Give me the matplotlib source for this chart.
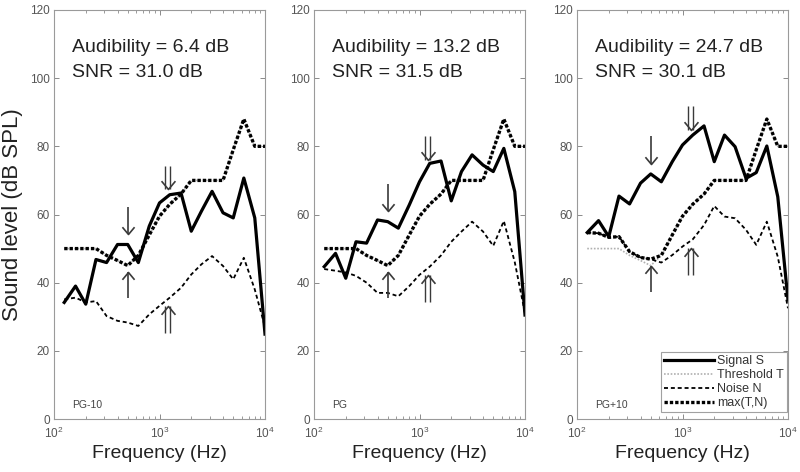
import numpy as np
import matplotlib
matplotlib.use("Agg")
import matplotlib.pyplot as plt
from matplotlib.path import Path
from matplotlib.transforms import ScaledTranslation

plt.rcParams['font.family'] = ['Liberation Sans', 'DejaVu Sans']
plt.rcParams['mathtext.default'] = 'regular'

# 1/3-octave band centres (Hz)
freqs = [125, 160, 200, 250, 315, 400, 500, 630, 800, 1000,
         1250, 1600, 2000, 2500, 3150, 4000, 5000, 6300, 8000, 10000]

threshold = [50, 50, 50, 50, 48, 46.5, 45, 48, 54, 59.5,
             63, 66, 70, 70, 70, 70, 79, 88, 80, 80]

signal_pg_m10 = [34.2, 39, 33.7, 46.8, 45.9, 51.2, 51.2, 45.9, 56.6, 63.4,
                 65.8, 66.3, 55.1, 61, 66.8, 60.5, 59, 70.7, 59, 24.9]
noise_pg_m10 = [35.1, 35.6, 34.2, 34.6, 30.2, 28.8, 28.3, 27.3, 30.7, 33.2,
                35.6, 38.5, 42.4, 45.4, 47.8, 44.9, 41, 47.3, 38, 27]

signal_pg = [44.7, 48.6, 41.3, 52, 51.6, 58.4, 57.9, 56, 62.8, 69.6,
             75, 75.7, 64, 72.6, 77.5, 74.5, 72.6, 79.4, 66.7, 30.5]
noise_pg = [44, 43.5, 43, 42, 40, 37, 37, 36, 39, 42.3,
            44.7, 48, 52, 55, 57.9, 55, 50.8, 58.1, 46, 31]

signal_pg_p10 = [54.7, 58.2, 53.5, 65.4, 63.1, 69.2, 71.9, 69.6, 75.5, 80.4,
                 83.3, 86, 75.5, 83.3, 79.9, 70.6, 72.3, 80.1, 65.2, 34.9]
noise_pg_p10 = [54.7, 54.5, 53.3, 53.5, 49.1, 47.4, 46.9, 45.9, 48.1, 50.6,
                52.7, 56.9, 62.5, 59.4, 58.9, 55.5, 51.1, 57.9, 47.6, 32.5]

conditions = ["PG-10", "PG", "PG+10"]
audibility = [6.4, 13.2, 24.7]
snr = [31.0, 31.5, 30.1]
signals = [signal_pg_m10, signal_pg, signal_pg_p10]
noises = [noise_pg_m10, noise_pg, noise_pg_p10]

# arrows mark the 500 Hz band and ~1.2 kHz
F_SINGLE = 500
F_DOUBLE = 1200

CHEV_DOWN = Path([(-1, 1.2), (0, 0), (1, 1.2)], [Path.MOVETO, Path.LINETO, Path.LINETO])
CHEV_UP = Path([(-1, -1.2), (0, 0), (1, -1.2)], [Path.MOVETO, Path.LINETO, Path.LINETO])
ARROW_COL = "#3a3a3a"


def at(f, vals):
    return float(np.interp(np.log10(f), np.log10(freqs), vals))


def arrow(ax, f, tail, tip, double=False):
    fig = ax.figure
    chev = CHEV_DOWN if tip < tail else CHEV_UP
    offs = (-1.7, 1.7) if double else (0,)
    for dx in offs:
        tr = ax.transData + ScaledTranslation(dx / 72, 0, fig.dpi_scale_trans)
        ax.plot([f, f], [tail, tip], color=ARROW_COL, lw=1.0 if double else 1.2,
                transform=tr, solid_capstyle='butt')
    ax.plot([f], [tip], marker=chev, ms=12 if double else 10.5, mfc='none',
            mec=ARROW_COL, mew=1.2, ls='none')


fig = plt.figure(figsize=(8, 4.72), dpi=100)
lefts = [54, 314, 577]
axes = []
for i in range(3):
    ax = fig.add_axes([lefts[i] / 800, 53 / 472, 211 / 800, 409 / 472])
    axes.append(ax)
    maxtn = np.maximum(threshold, noises[i])

    h_t, = ax.plot(freqs, threshold, color='#b0b0b0', lw=1.2, ls=(0, (1, 1)))
    h_n, = ax.plot(freqs, noises[i], color='black', lw=1.3, ls=(0, (2.2, 1.6)))
    h_m, = ax.plot(freqs, maxtn, color='black', lw=2.4, ls=(0, (1, 0.6)))
    h_s, = ax.plot(freqs, signals[i], color='black', lw=2.3)

    # arrows
    s5 = at(F_SINGLE, signals[i]) + 3
    arrow(ax, F_SINGLE, s5 + 8, s5)
    m5 = at(F_SINGLE, maxtn) - 2
    arrow(ax, F_SINGLE, m5 - 7.5, m5)
    s12 = at(F_DOUBLE, signals[i]) + 2
    arrow(ax, F_DOUBLE, s12 + 7, s12, double=True)
    n12 = at(F_DOUBLE, noises[i]) - 2
    arrow(ax, F_DOUBLE, n12 - 8, n12, double=True)

    ax.set_xscale('log')
    ax.set_xlim(100, 10000)
    ax.set_ylim(0, 120)
    ax.set_yticks(range(0, 121, 20))
    ax.tick_params(which='both', direction='in', top=True, right=True,
                   color='#8a8a8a', labelcolor='#555555', labelsize=8.5)
    ax.tick_params(axis='y', pad=3)
    ax.tick_params(axis='x', pad=5)
    ax.tick_params(which='major', length=3.5, width=0.7)
    ax.tick_params(which='minor', length=2, width=0.6)
    for sp in ax.spines.values():
        sp.set_color('#9a9a9a')
        sp.set_linewidth(0.8)

    ax.set_xlabel("Frequency (Hz)", fontsize=14, color='#222222')
    ax.xaxis.set_label_coords(0.5, -0.064)

    ax.text(0.085, 0.909, f"Audibility = {audibility[i]:.1f} dB", transform=ax.transAxes,
            fontsize=14, color='#222222', va='center', ha='left')
    ax.text(0.085, 0.846, f"SNR = {snr[i]:.1f} dB", transform=ax.transAxes,
            fontsize=14, color='#222222', va='center', ha='left')
    ax.text(0.085, 0.034, conditions[i], transform=ax.transAxes,
            fontsize=7.5, color='#444444', va='center', ha='left')

axes[0].set_ylabel("Sound level (dB SPL)", fontsize=16, color='#222222')
axes[0].yaxis.set_label_coords(-0.145, 0.5)

leg = axes[2].legend([h_s, h_t, h_n, h_m],
                     ["Signal S", "Threshold T", "Noise N", "max(T,N)"],
                     loc='lower right', bbox_to_anchor=(0.997, 0.017), fontsize=9,
                     frameon=True, fancybox=False, edgecolor='#8a8a8a',
                     handlelength=4.0, handletextpad=0.3, borderpad=0.25,
                     labelspacing=0.15, borderaxespad=0)
leg.get_frame().set_linewidth(0.8)
for t in leg.get_texts():
    t.set_color('#333333')

fig.savefig("out.png", dpi=100, facecolor='white')
